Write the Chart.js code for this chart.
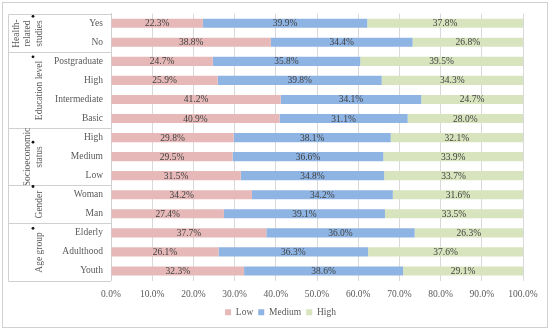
<!DOCTYPE html>
<html>
<head>
<meta charset="utf-8">
<script src="https://cdn.jsdelivr.net/npm/chart.js@4.4.1/dist/chart.umd.min.js"></script>
<style>
  html, body { margin: 0; padding: 0; background: #fff; }
  #wrap { width: 550px; height: 330px; }
</style>
</head>
<body>
<div id="wrap"><canvas id="chart"></canvas></div>
<script>
const categories = ['Yes', 'No', 'Postgraduate', 'High', 'Intermediate', 'Basic', 'High', 'Medium', 'Low', 'Woman', 'Man', 'Elderly', 'Adulthood', 'Youth'];
const lowValues = [22.3, 38.8, 24.7, 25.9, 41.2, 40.9, 29.8, 29.5, 31.5, 34.2, 27.4, 37.7, 26.1, 32.3];
const mediumValues = [39.9, 34.4, 35.8, 39.8, 34.1, 31.1, 38.1, 36.6, 34.8, 34.2, 39.1, 36.0, 36.3, 38.6];
const highValues = [37.8, 26.8, 39.5, 34.3, 24.7, 28.0, 32.1, 33.9, 33.7, 31.6, 33.5, 26.3, 37.6, 29.1];
const xTicks = [0, 10, 20, 30, 40, 50, 60, 70, 80, 90, 100];

// group name lines, first row, last row
const groupNames = [['Health-', 'related', 'studies'], ['Education level'], ['Socioeconomic', 'status'], ['Gender'], ['Age group']];
const groupStart = [0, 2, 6, 9, 11];
const groupEnd = [1, 5, 8, 10, 13];

const FONT = '"Liberation Serif", "Times New Roman", serif';
const TEXT = '#595959';
const LINE = '#D0D0D0';

// values written in the middle of each segment
const valueLabels = {
  id: 'valueLabels',
  afterDatasetsDraw(chart) {
    const ctx = chart.ctx;
    ctx.save();
    ctx.font = '9.5px ' + FONT;
    ctx.fillStyle = '#404040';
    ctx.textAlign = 'center';
    ctx.textBaseline = 'middle';
    chart.data.datasets.forEach((ds, di) => {
      chart.getDatasetMeta(di).data.forEach((bar, i) => {
        const p = bar.getCenterPoint();
        ctx.fillText(ds.data[i].toFixed(1) + '%', p.x, p.y + 0.5);
      });
    });
    ctx.restore();
  }
};

// legend in the reference sits a bit right of the plot centre
const legendShift = {
  id: 'legendShift',
  afterLayout(chart) {
    if (chart.legend) chart.legend.left += 30;
  }
};

// left group column, dividers and the outer frame
const groupColumn = {
  id: 'groupColumn',
  afterDraw(chart) {
    const ctx = chart.ctx;
    const area = chart.chartArea;
    const y = chart.scales.y;
    const step = (area.bottom - area.top) / categories.length;
    const left = 8.5;
    ctx.save();
    ctx.strokeStyle = LINE;
    ctx.lineWidth = 1;
    ctx.strokeRect(2.5, 2.5, chart.width - 5, chart.height - 5);

    ctx.beginPath();
    ctx.moveTo(left, Math.round(area.top) + 0.5);
    ctx.lineTo(left, Math.round(area.bottom) + 0.5);
    ctx.stroke();

    ctx.font = '9.5px ' + FONT;
    ctx.textAlign = 'center';
    ctx.textBaseline = 'middle';
    groupNames.forEach((lines, g) => {
      const top = Math.round(y.getPixelForValue(groupStart[g]) - step / 2) + 0.5;
      const bottom = Math.round(y.getPixelForValue(groupEnd[g]) + step / 2) + 0.5;
      ctx.beginPath();
      ctx.moveTo(left, top);
      ctx.lineTo(area.left, top);
      ctx.moveTo(left, bottom);
      ctx.lineTo(area.left, bottom);
      ctx.stroke();

      const mid = (top + bottom) / 2;
      const lastX = 39;
      ctx.fillStyle = TEXT;
      lines.forEach((txt, i) => {
        const x = lastX - (lines.length - 1 - i) * 11.5;
        ctx.save();
        ctx.translate(x, mid);
        ctx.rotate(-Math.PI / 2);
        ctx.fillText(txt, 0, 0);
        ctx.restore();
      });
      const w = ctx.measureText(lines[lines.length - 1]).width;
      ctx.fillStyle = '#111';
      ctx.beginPath();
      ctx.arc(lastX - 6, mid - w / 2 - 4, 1.4, 0, Math.PI * 2);
      ctx.fill();
    });
    ctx.restore();
  }
};

new Chart(document.getElementById('chart'), {
  type: 'bar',
  data: {
    labels: categories,
    datasets: [
      { label: 'Low', data: lowValues, backgroundColor: '#E6B9B8' },
      { label: 'Medium', data: mediumValues, backgroundColor: '#8EB4E3' },
      { label: 'High', data: highValues, backgroundColor: '#D7E4BD' }
    ]
  },
  options: {
    indexAxis: 'y',
    responsive: true,
    maintainAspectRatio: false,
    animation: false,
    datasets: {
      bar: { barPercentage: 0.48, categoryPercentage: 1 }
    },
    layout: { padding: { left: 8, right: 27, top: 13, bottom: 3 } },
    scales: {
      x: {
        stacked: true,
        min: 0,
        max: 100,
        afterBuildTicks(scale) { scale.ticks = xTicks.map(v => ({ value: v })); },
        afterFit(scale) { scale.height = 22; },
        ticks: {
          color: TEXT,
          font: { family: FONT, size: 9.5 },
          padding: 8,
          callback: v => v.toFixed(1) + '%'
        },
        grid: { color: '#D9D9D9', drawTicks: false },
        border: { display: false }
      },
      y: {
        stacked: true,
        afterFit(scale) { scale.width = 103; },
        ticks: {
          color: TEXT,
          font: { family: FONT, size: 9.5 },
          padding: 8
        },
        grid: { display: false, drawTicks: false },
        border: { color: LINE }
      }
    },
    plugins: {
      legend: {
        position: 'bottom',
        labels: {
          boxWidth: 6,
          boxHeight: 6,
          padding: 5,
          color: TEXT,
          font: { family: FONT, size: 9.5 }
        }
      },
      tooltip: { enabled: false }
    }
  },
  plugins: [valueLabels, legendShift, groupColumn]
});
</script>
</body>
</html>
